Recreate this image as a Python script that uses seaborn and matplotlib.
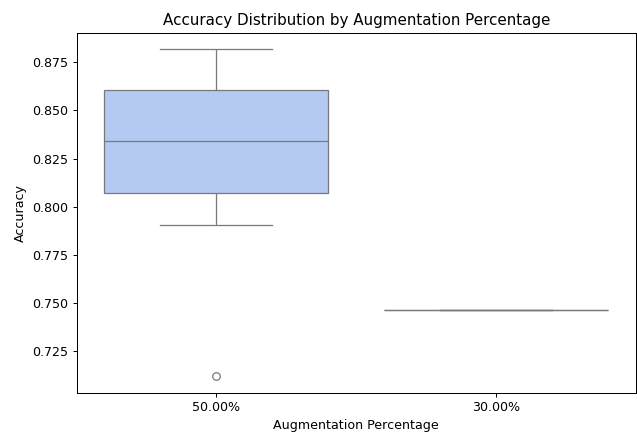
import pandas as pd
import matplotlib.pyplot as plt
import seaborn as sns

# accuracy values per augmentation level
acc_50 = [0.712, 0.7907, 0.8071, 0.821, 0.8344, 0.848, 0.8608, 0.871, 0.8820]
acc_30 = [0.7465, 0.7465, 0.7465]
labels = ["50.00%", "30.00%"]

df = pd.DataFrame({
    "Augmentation Percentage": [labels[0]] * len(acc_50) + [labels[1]] * len(acc_30),
    "Accuracy": acc_50 + acc_30,
})

W, H = 637, 434
fig, ax = plt.subplots(figsize=(W / 91, H / 91), dpi=91)
sns.boxplot(data=df, x="Augmentation Percentage", y="Accuracy",
            hue="Augmentation Percentage", palette="coolwarm", legend=False, ax=ax)
ax.set_title("Accuracy Distribution by Augmentation Percentage")
fig.subplots_adjust(left=76.5 / W, right=636 / W, top=1 - 32.5 / H, bottom=1 - 392.5 / H)
plt.savefig("out.png", dpi=91)
